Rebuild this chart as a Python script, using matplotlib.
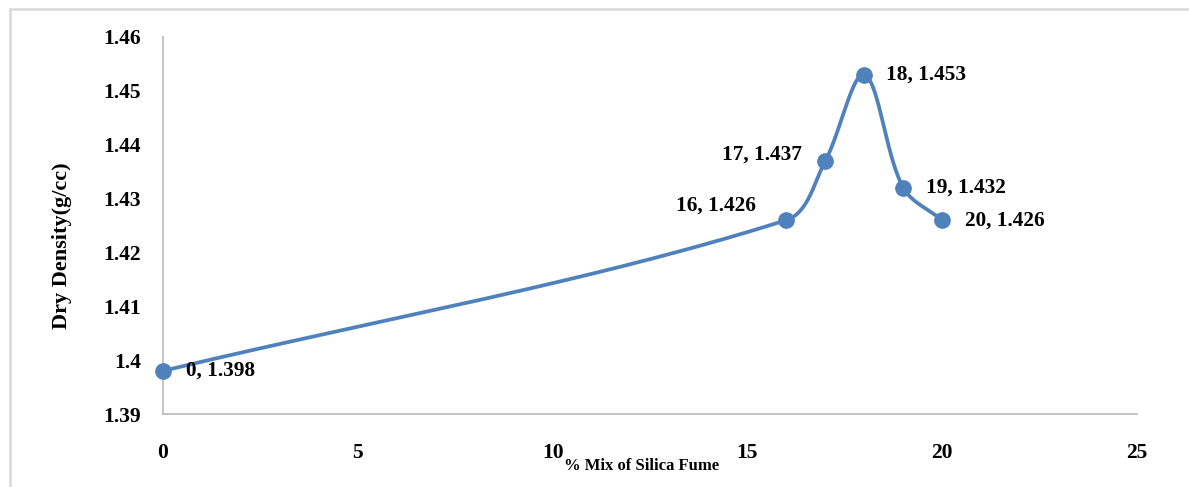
import numpy as np
import matplotlib
matplotlib.use("Agg")
import matplotlib.pyplot as plt
from matplotlib.lines import Line2D

# ---- data ----
silica_pct = [0, 16, 17, 18, 19, 20]
dry_density = [1.398, 1.426, 1.437, 1.453, 1.432, 1.426]
x_ticks = [0, 5, 10, 15, 20, 25]
y_ticks = [1.39, 1.40, 1.41, 1.42, 1.43, 1.44, 1.45, 1.46]
x_label = "% Mix of Silica Fume"
y_label = "Dry Density(g/cc)"

# label offsets in pixels (style)
label_offsets = [(23, 0, 'left'), (-30, 15, 'right'), (-23, 6, 'right'),
                 (22, 0, 'left'), (23, 0, 'left'), (23, 0, 'left')]

COLOR = '#4F81BD'
FONT = 'Liberation Serif'

fig = plt.figure(figsize=(11.89, 4.87), dpi=100)
ax = fig.add_axes([163/1189, 1-414/487, (1137-163)/1189, (414-37)/487])
ax.set_xlim(0, 25)
ax.set_ylim(1.39, 1.46)


def excel_smooth(xs, ys, n=60):
    """Bezier smoothing in display space, tangent split by chord lengths."""
    P = ax.transData.transform(np.column_stack([xs, ys]))
    m = len(P)
    out = [P[0]]
    for i in range(m - 1):
        p0, p1 = P[i], P[i + 1]
        d = np.linalg.norm(p1 - p0)
        if i == 0:
            c1 = p0 + (p1 - p0) / 3
        else:
            T = P[i + 1] - P[i - 1]
            dp = np.linalg.norm(P[i] - P[i - 1])
            c1 = p0 + T * d / (dp + d) / 3
        if i + 1 == m - 1:
            c2 = p1 - (p1 - p0) / 3
        else:
            T = P[i + 2] - P[i]
            dn = np.linalg.norm(P[i + 2] - P[i + 1])
            c2 = p1 - T * d / (d + dn) / 3
        t = np.linspace(0, 1, n)[1:, None]
        seg = ((1 - t) ** 3) * p0 + 3 * ((1 - t) ** 2) * t * c1 + 3 * (1 - t) * t ** 2 * c2 + t ** 3 * p1
        out.extend(seg)
    out = np.array(out)
    return ax.transData.inverted().transform(out)


curve = excel_smooth(silica_pct, dry_density)
ax.plot(curve[:, 0], curve[:, 1], color=COLOR, lw=2.7, solid_capstyle='round', zorder=3, clip_on=False)
ax.plot(silica_pct, dry_density, 'o', color=COLOR, ms=11, zorder=4, clip_on=False)

for (x, y), (dx, dy, ha) in zip(zip(silica_pct, dry_density), label_offsets):
    ax.annotate(f"{x}, {y:.3f}", (x, y), xytext=(dx, dy), textcoords='offset pixels',
                ha=ha, va='center', fontsize=15.3, fontweight='bold', family=FONT, color='black')

ax.set_xticks(x_ticks)
ax.set_yticks(y_ticks)
ax.set_yticklabels([f"{v:g}" for v in y_ticks])
ax.tick_params(length=0)
ax.tick_params(axis='y', pad=16)
ax.tick_params(axis='x', pad=21)
for lab in ax.get_xticklabels() + ax.get_yticklabels():
    lab.set_fontfamily(FONT)
    lab.set_fontweight('bold')
    lab.set_fontsize(15.5)

for s in ['top', 'right']:
    ax.spines[s].set_visible(False)
for s in ['left', 'bottom']:
    ax.spines[s].set_color('#BFBFBF')
    ax.spines[s].set_linewidth(1.3)

ax.set_xlabel(x_label, fontsize=12, fontweight='bold', family=FONT)
ax.xaxis.set_label_coords((642-163)/(1137-163), 1 - (466-37)/(414-37))
ax.xaxis.label.set_va('center')
ax.set_ylabel(y_label, fontsize=16, fontweight='bold', family=FONT)
ax.yaxis.set_label_coords((62-163)/(1137-163), 1 - (246-37)/(414-37))
ax.yaxis.label.set_va('center')

# chart border (partially visible)
fig.add_artist(Line2D([10/1189, 1.01], [1-8.5/487, 1-8.5/487], color='#D9D9D9', lw=1.8))
fig.add_artist(Line2D([10/1189, 10/1189], [1-8.5/487, -0.01], color='#D9D9D9', lw=1.8))

fig.savefig('out.png', dpi=100)
